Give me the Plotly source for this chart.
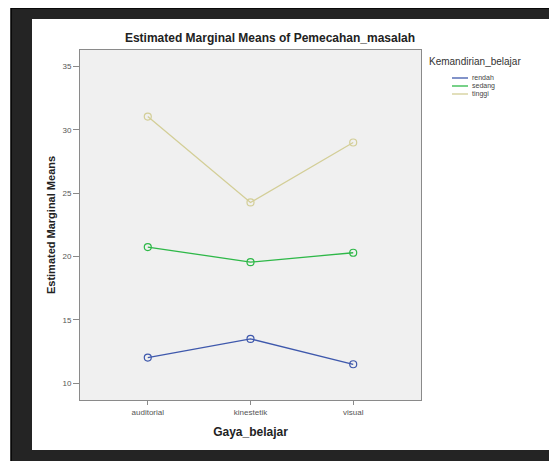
import plotly.graph_objects as go

categories = ["auditorial", "kinestetik", "visual"]
series_names = ["rendah", "sedang", "tinggi"]
rendah = [12.03, 13.5, 11.5]
sedang = [20.75, 19.56, 20.3]
tinggi = [31.05, 24.27, 29.0]
y_ticks = [10, 15, 20, 25, 30, 35]
legend_title = "Kemandirian_belajar"

colors = ["#3E58AC", "#2EB848", "#D3CE97"]
values = [rendah, sedang, tinggi]

OFF = 8  # browser body margin
W, H = 557 - OFF, 461 - OFF
# plot area in page pixels
L, R, T, B = 80, 421, 50, 400


def px_x(p):
    return (p - L) / (R - L)


def px_y(p):
    return (B - p) / (B - T)


fig = go.Figure()
for name, vals, col in zip(series_names, values, colors):
    fig.add_trace(go.Scatter(
        x=categories, y=vals, mode="lines+markers", name=name,
        line=dict(color=col, width=1.3),
        marker=dict(symbol="circle-open", size=7, color=col, line=dict(width=1.2, color=col)),
        showlegend=False,
    ))

shapes = [
    dict(type="rect", xref="paper", yref="paper", x0=px_x(11), x1=px_x(570), y0=px_y(8), y1=px_y(475),
         fillcolor="#242424", line=dict(color="#000000", width=1.5), layer="below"),
    dict(type="rect", xref="paper", yref="paper", x0=px_x(32), x1=px_x(550), y0=px_y(19), y1=px_y(450),
         fillcolor="#ffffff", line=dict(width=0), layer="below"),
    dict(type="rect", xref="paper", yref="paper", x0=0, x1=1, y0=0, y1=1,
         fillcolor="#f0f0f0", line=dict(width=0), layer="below"),
]

annotations = [
    dict(text=legend_title, xref="paper", yref="paper", x=px_x(427), y=px_y(62),
         xanchor="left", yanchor="middle", showarrow=False,
         font=dict(size=10, color="#333333")),
]
legend_y = [78, 86, 94]
for name, col, ly in zip(series_names, colors, legend_y):
    shapes.append(dict(type="line", xref="paper", yref="paper",
                       x0=px_x(452), x1=px_x(468), y0=px_y(ly), y1=px_y(ly),
                       line=dict(color=col, width=1.3)))
    annotations.append(dict(text=name, xref="paper", yref="paper", x=px_x(470), y=px_y(ly),
                            xanchor="left", yanchor="middle", showarrow=False,
                            font=dict(size=7, color="#444444")))

fig.update_layout(
    width=W, height=H,
    margin=dict(l=L - OFF, r=W - (R - OFF), t=T - OFF, b=H - (B - OFF), pad=0),
    paper_bgcolor="#ffffff",
    plot_bgcolor="rgba(0,0,0,0)",
    font=dict(family="Liberation Sans, Arial, sans-serif", color="#333333"),
    title=dict(text="<b>Estimated Marginal Means of Pemecahan_masalah</b>",
               x=px_x(270), xref="paper", xanchor="center",
               y=1 - (38 - OFF) / H, yanchor="middle",
               font=dict(size=12, color="#222222")),
    shapes=shapes,
    annotations=annotations,
    showlegend=False,
    xaxis=dict(
        type="category", range=[-0.66, 2.66],
        showline=True, mirror=True, linecolor="#8a8a8a", linewidth=1,
        ticks="outside", ticklen=4, tickcolor="#8a8a8a",
        showgrid=False, zeroline=False,
        tickfont=dict(size=8, color="#555555"),
        title=dict(text="<b>Gaya_belajar</b>", font=dict(size=12, color="#222222"), standoff=12),
    ),
    yaxis=dict(
        range=[8.68, 36.3], tickvals=y_ticks,
        showline=True, mirror=True, linecolor="#8a8a8a", linewidth=1,
        ticks="outside", ticklen=6, tickcolor="#8a8a8a",
        showgrid=False, zeroline=False,
        tickfont=dict(size=8, color="#555555"),
        title=dict(text="<b>Estimated Marginal Means</b>", font=dict(size=11, color="#222222"), standoff=4),
    ),
)

fig.write_html("out.html")
